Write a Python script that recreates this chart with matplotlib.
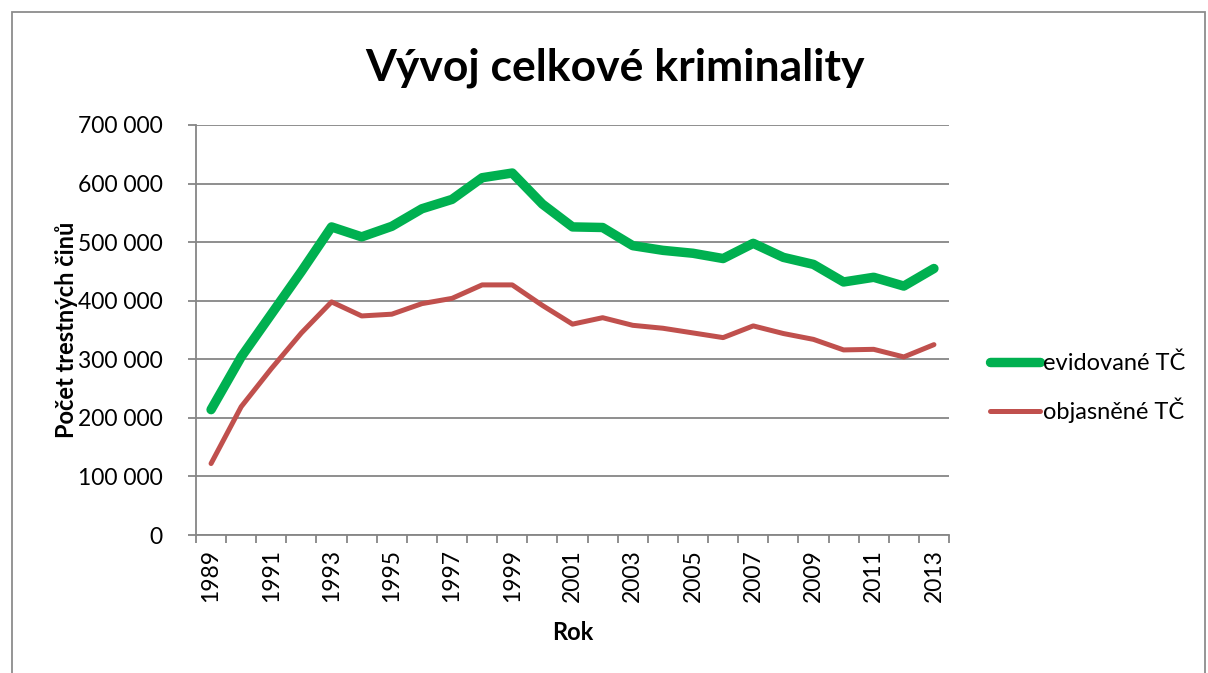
import matplotlib
matplotlib.use("Agg")
import matplotlib.pyplot as plt
from matplotlib.ticker import FuncFormatter, FixedLocator
from matplotlib.patches import Rectangle

years = list(range(1989, 2014))
evidovane = [214000, 304000, 377000, 450000, 526000, 509000, 527000, 557000, 573000,
             610000, 618000, 565000, 526000, 525000, 494000, 486000, 481000, 472000,
             498000, 474000, 462000, 432000, 440000, 425000, 455000]
objasnene = [122000, 219000, 284000, 345000, 398000, 374000, 377000, 395000, 404000,
             427000, 427000, 392000, 360000, 371000, 358000, 353000, 345000, 337000,
             357000, 344000, 334000, 316000, 317000, 304000, 325000]
series_names = ["evidované TČ", "objasněné TČ"]
title = "Vývoj celkové kriminality"
xlabel = "Rok"
ylabel = "Počet trestných činů"

plt.rcParams['font.family'] = ['Lato', 'DejaVu Sans']

W, H = 1208, 673
fig = plt.figure(figsize=(W / 100, H / 100), dpi=100)
fig.patch.set_facecolor("white")

# outer chart border
fig.add_artist(Rectangle((12 / W, -0.05), (1205 - 12) / W, 1.05 - 12 / H,
                         transform=fig.transFigure, fill=False,
                         edgecolor="#8c8c8c", linewidth=1.3))

ax = fig.add_axes([196 / W, 1 - 535 / H, (949 - 196) / W, (535 - 125) / H])

x = list(range(len(years)))
ax.plot(x, evidovane, color="#00B050", linewidth=6.8, solid_capstyle="round",
        solid_joinstyle="round", label=series_names[0], zorder=3)
ax.plot(x, objasnene, color="#C0504D", linewidth=3.6, solid_capstyle="round",
        solid_joinstyle="round", label=series_names[1], zorder=3)

ax.set_xlim(-0.5, len(years) - 0.5)
ax.set_ylim(0, 700000)

grid_c = "#868686"
ax.set_yticks(range(0, 700001, 100000))
ax.yaxis.set_major_formatter(FuncFormatter(lambda v, p: f"{int(v):,}".replace(",", " ")))
ax.yaxis.grid(True, color=grid_c, linewidth=1.3)
ax.set_axisbelow(True)

ax.xaxis.set_major_locator(FixedLocator(x[::2]))
ax.set_xticklabels([str(y) for y in years[::2]], rotation=90)
ax.xaxis.set_minor_locator(FixedLocator([i - 0.5 for i in range(len(years) + 1)]))
ax.tick_params(axis="x", which="major", length=0, pad=10, labelsize=16.5)
ax.tick_params(axis="x", which="minor", length=6, color=grid_c, width=1.3)
ax.tick_params(axis="y", which="major", length=6, color=grid_c, width=1.3,
               labelsize=16.5, pad=18)

for s in ["top", "right"]:
    ax.spines[s].set_visible(False)
for s in ["left", "bottom"]:
    ax.spines[s].set_color(grid_c)
    ax.spines[s].set_linewidth(1.3)

ax.set_xlabel(xlabel, fontsize=17, fontweight="bold", labelpad=14)
ax.set_ylabel(ylabel, fontsize=17, fontweight="bold", labelpad=0)
fig.text(615 / W, 1 - 68 / H, title, fontsize=32, fontweight="bold",
         ha="center", va="center")

leg = ax.legend(loc="center left", bbox_to_anchor=(990 / W, 1 - 388 / H),
                bbox_transform=fig.transFigure, frameon=False, fontsize=17,
                handlelength=2.1, handletextpad=0.15, labelspacing=1.0,
                borderpad=0, borderaxespad=0)
for h in leg.get_lines():
    h.set_solid_capstyle("round")

fig.savefig("out.png", dpi=100, facecolor="white")
